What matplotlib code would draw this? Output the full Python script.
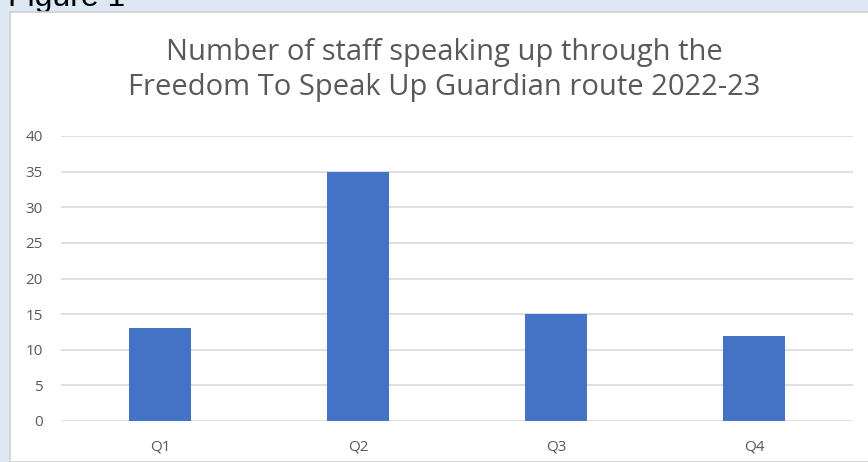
import matplotlib.pyplot as plt
from matplotlib.patches import Rectangle

quarters = ['Q1', 'Q2', 'Q3', 'Q4']
staff_counts = [13, 35, 15, 12]
title = 'Number of staff speaking up through the\nFreedom To Speak Up Guardian route 2022-23'

plt.rcParams['font.family'] = ['Open Sans', 'DejaVu Sans']

fig = plt.figure(figsize=(8.68, 4.62), dpi=100)
fig.patch.set_facecolor('#dde8f4')

# caption sitting behind the white chart panel, mostly cut off at the top
fig.text(8 / 868, 1 - 6 / 462, 'Figure 1', fontsize=23, color='black', family='Liberation Sans',
         ha='left', va='baseline', zorder=-2)
panel = Rectangle((10 / 868, 0), 1.0, 1 - 12 / 462, transform=fig.transFigure,
                  facecolor='white', edgecolor='#d0d0d0', linewidth=1.2, zorder=-1)
fig.patches.append(panel)

ax = fig.add_axes([61 / 868, 41 / 462, 792 / 868, 285 / 462])
ax.set_facecolor('none')
x = range(len(quarters))
ax.bar(x, staff_counts, width=0.31, color='#4472c4', zorder=3)

ax.set_xlim(-0.5, 3.5)
ax.set_ylim(0, 40)
ax.set_yticks(range(0, 41, 5))
ax.set_xticks(list(x))
ax.set_xticklabels(quarters)
ax.grid(axis='y', color='#d9d9d9', linewidth=1.2, zorder=0)
for s in ax.spines.values():
    s.set_visible(False)
ax.tick_params(length=0, labelsize=11, labelcolor='#595959')
ax.tick_params(axis='y', pad=13)
ax.tick_params(axis='x', pad=13)

fig.text(444 / 868, 1 - 70 / 462, title, ha='center', va='center', fontsize=21,
         color='#595959', linespacing=1.3)

fig.savefig('out.png', dpi=100, facecolor=fig.get_facecolor())
